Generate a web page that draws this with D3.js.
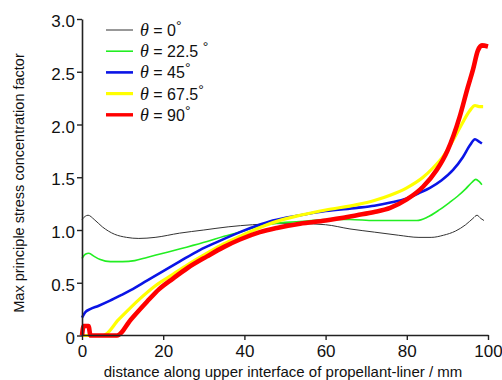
<!DOCTYPE html>
<html>
<head>
<meta charset="utf-8">
<script src="https://cdn.jsdelivr.net/npm/d3@7"></script>
<style>
  html, body { margin: 0; padding: 0; background: #fff; }
  svg text { font-family: "Liberation Sans", Arial, sans-serif; fill: #111; }
</style>
</head>
<body>
<div id="chart"></div>
<script>
const MARGIN = { top: 19, right: 14, bottom: 45, left: 82 }
const WIDTH = 502, HEIGHT = 380

const xTicks = [0, 20, 40, 60, 80, 100]
const yTicks = [0, 0.5, 1.0, 1.5, 2.0, 2.5, 3.0]
const yTickLabels = ['0', '0.5', '1.0', '1.5', '2.0', '2.5', '3.0']

// [distance mm, factor]
const theta0 = [[0,1.10],[0.8,1.13],[1.5,1.14],[3,1.10],[5,1.03],[8,0.96],[11,0.93],[14,0.92],[18,0.93],[24,0.97],[30,1.00],[36,1.03],[42,1.05],[48,1.06],[54,1.06],[60,1.05],[66,1.01],[72,0.98],[78,0.95],[83,0.93],[86,0.93],[89,0.95],[92,0.99],[94.5,1.05],[96.3,1.11],[97.3,1.14],[98.2,1.11],[99,1.09]]
const theta22 = [[0,0.73],[0.8,0.77],[1.7,0.78],[3,0.75],[4.5,0.72],[7,0.70],[10,0.70],[13,0.71],[16,0.74],[20,0.78],[24,0.82],[30.8,0.89],[35,0.94],[38.9,0.98],[43,1.03],[47,1.06],[53.7,1.08],[60,1.10],[66,1.10],[72,1.09],[78,1.09],[82.5,1.09],[85,1.12],[88,1.19],[90.5,1.26],[92.5,1.32],[94.5,1.39],[96,1.45],[97,1.48],[97.8,1.46],[98.5,1.43]]
const theta45 = [[0,0.17],[0.8,0.22],[2,0.25],[4,0.28],[6.9,0.33],[9.5,0.38],[12,0.43],[16,0.52],[20,0.61],[24,0.70],[29,0.81],[33.5,0.89],[38.9,0.98],[43,1.04],[47,1.09],[53.7,1.14],[60,1.18],[67.7,1.21],[72,1.23],[76,1.26],[80,1.30],[83,1.35],[85.7,1.40],[88.5,1.47],[91.4,1.57],[93.8,1.69],[95.5,1.80],[96.8,1.86],[97.7,1.84],[98.5,1.82]]
const theta67 = [[0,0],[5.2,0],[9,0.15],[14.3,0.35],[18,0.47],[22.4,0.58],[26,0.67],[30.8,0.78],[35,0.87],[38.9,0.94],[43,1.01],[47,1.07],[53.7,1.14],[60,1.19],[67.7,1.24],[72,1.28],[75.9,1.33],[80,1.40],[84,1.50],[86.5,1.59],[89,1.70],[91.4,1.85],[93.5,2.00],[95.5,2.13],[96.8,2.18],[97.8,2.17],[98.8,2.17]]
const theta90 = [[0,0],[0.4,0.09],[1.6,0.09],[2.1,0],[8.6,0],[12,0.15],[16,0.32],[19,0.44],[22.4,0.54],[26,0.64],[30.8,0.75],[35,0.84],[38.9,0.91],[43.8,0.98],[48,1.02],[53.7,1.06],[60,1.09],[67.7,1.14],[72,1.17],[75.9,1.21],[80,1.29],[84,1.41],[87.4,1.57],[90,1.75],[93,2.07],[95,2.35],[96.3,2.52],[97.5,2.70],[98.5,2.75],[100,2.74]]

const seriesNames = ['0', '22.5 ', '45', '67.5', '90']
const seriesData = [theta0, theta22, theta45, theta67, theta90]
const seriesColors = ['#333333', '#22ee22', '#0a14e6', '#ffff00', '#ff0000']
const seriesWidths = [1, 1.6, 2.6, 3.2, 4.6]

const W = WIDTH - MARGIN.left - MARGIN.right
const H = HEIGHT - MARGIN.top - MARGIN.bottom

const svg = d3.select('#chart').append('svg')
  .attr('width', WIDTH).attr('height', HEIGHT)

const g = svg.append('g').attr('transform', `translate(${MARGIN.left},${MARGIN.top})`)

const x = d3.scaleLinear().domain([0, 100]).range([0, 406])
const y = d3.scaleLinear().domain([0, 3]).range([H + 0.5, 0])

// ── lines ─────────────────────────────────────────────────────
const lineGen = d3.line()
  .x(d => x(d[0]))
  .y(d => y(d[1]))
  .curve(d3.curveMonotoneX)

g.append('g').selectAll('path').data(seriesData)
  .join('path')
  .attr('d', lineGen)
  .attr('fill', 'none')
  .attr('stroke', (_, i) => seriesColors[i])
  .attr('stroke-width', (_, i) => seriesWidths[i])
  .attr('stroke-linejoin', 'round')

// ── axes ─────────────────────────────────────────────────────
const xAxis = g.append('g').attr('transform', `translate(0,${H})`)
  .call(d3.axisBottom(x).tickValues(xTicks).tickSize(5).tickSizeOuter(0).tickPadding(5))
const yAxis = g.append('g')
  .call(d3.axisLeft(y).tickValues(yTicks).tickFormat((_, i) => yTickLabels[i]).tickSize(5).tickSizeOuter(0).tickPadding(2))

;[xAxis, yAxis].forEach(a => {
  a.select('.domain').attr('stroke', '#222').attr('stroke-width', 1.6)
  a.selectAll('.tick line').attr('stroke', '#222').attr('stroke-width', 1.4)
  a.selectAll('text').style('font-size', '17px').attr('fill', '#111')
})
yAxis.selectAll('text').attr('dy', '0.45em')

// ── axis labels ──────────────────────────────────────────────
svg.append('text')
  .attr('x', 283).attr('y', 377)
  .attr('text-anchor', 'middle')
  .style('font-size', '15px')
  .text('distance along upper interface of propellant-liner / mm')

svg.append('text')
  .attr('transform', 'rotate(-90)')
  .attr('x', -183).attr('y', 24)
  .attr('text-anchor', 'middle')
  .style('font-size', '14.5px')
  .text('Max principle stress concentration factor')

// ── legend ───────────────────────────────────────────────────
const legend = svg.append('g').attr('transform', 'translate(106,30)')
const rows = legend.selectAll('g').data(seriesNames)
  .join('g').attr('transform', (_, i) => `translate(0,${i * 21.2})`)

rows.append('line')
  .attr('x1', 0).attr('x2', 27).attr('y1', 0).attr('y2', 0)
  .attr('stroke', (_, i) => seriesColors[i])
  .attr('stroke-width', (_, i) => Math.min(seriesWidths[i], 3.4))

const label = rows.append('text').attr('x', 34).attr('y', 6).style('font-size', '16px')
label.append('tspan')
  .style('font-family', '"Liberation Serif", "Times New Roman", serif')
  .style('font-style', 'italic')
  .style('font-size', '18px')
  .text('θ')
label.append('tspan').text(d => ` = ${d}`)
label.append('tspan').attr('dy', -5).style('font-size', '14px').text('°')
</script>
</body>
</html>
